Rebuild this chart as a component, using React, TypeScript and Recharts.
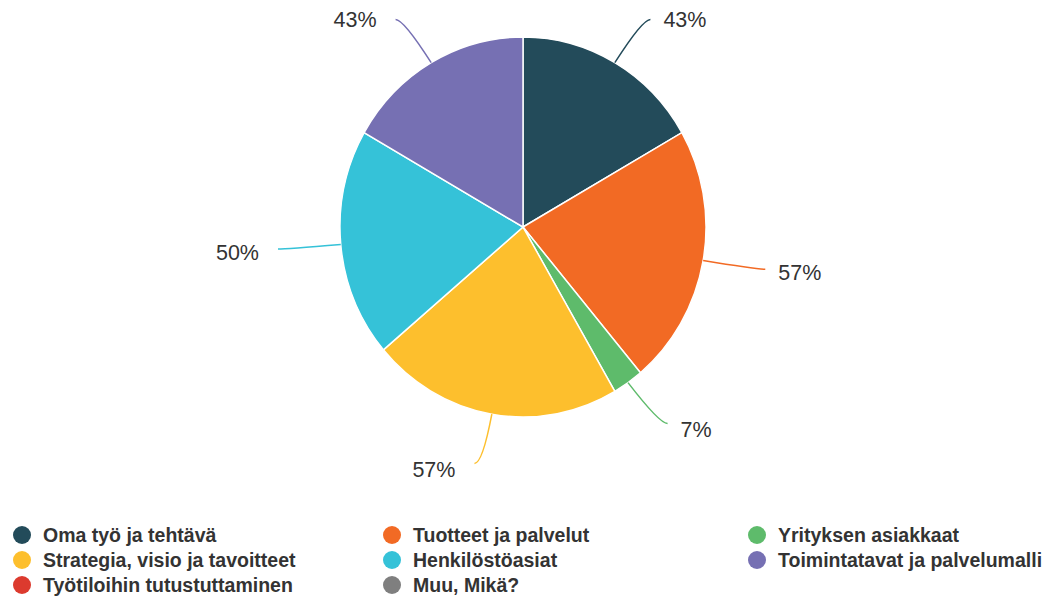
import React from 'react';
import { PieChart, Pie, Cell, Legend, Sector } from 'recharts';

const categories = [
  'Oma työ ja tehtävä',
  'Tuotteet ja palvelut',
  'Yrityksen asiakkaat',
  'Strategia, visio ja tavoitteet',
  'Henkilöstöasiat',
  'Toimintatavat ja palvelumalli',
  'Työtiloihin tutustuttaminen',
  'Muu, Mikä?',
];
const percentages = [43, 57, 7, 57, 50, 43, 0, 0];
const colors = ['#234b5a', '#f26a24', '#5ebb6b', '#fdbf2d', '#35c2d8', '#7670b3', '#dc3a2e', '#7f7f7f'];

const data = categories.map((name, i) => ({ name, value: percentages[i] }));

const RADIAN = Math.PI / 180;
const FONT = '"Liberation Sans", Arial, sans-serif';
// the original pie is slightly squeezed horizontally
const X_SCALE = 183 / 190;

// curved connector: goes out radially, then hooks sideways
const lineGeometry = (cx: number, cy: number, r: number, midAngle: number) => {
  const cos = Math.cos(-midAngle * RADIAN);
  const sin = Math.sin(-midAngle * RADIAN);
  const start = { x: cx + r * X_SCALE * cos, y: cy + r * sin };
  const bend = { x: cx + (r * X_SCALE + 55) * cos, y: cy + (r + 50) * sin };
  const side = cos >= 0 ? 1 : -1;
  const end = { x: bend.x + side * 8, y: bend.y };
  return { start, bend, end, side, sin };
};

const renderLabelLine = (props: any) => {
  const { cx, cy, midAngle, outerRadius, value, index } = props;
  if (!value) return <g />;
  const { start, bend, end } = lineGeometry(cx, cy, outerRadius, midAngle);
  return (
    <path
      d={`M${start.x},${start.y} Q${bend.x},${bend.y} ${end.x},${end.y}`}
      stroke={colors[index]}
      strokeWidth={1.5}
      fill="none"
    />
  );
};

const renderLabel = (props: any) => {
  const { cx, cy, midAngle, outerRadius, value } = props;
  if (!value) return <g />;
  const { end, side, sin } = lineGeometry(cx, cy, outerRadius, midAngle);
  return (
    <text
      x={end.x + (side > 0 ? 13 : -19)}
      y={end.y + 3.5 + 3 * sin}
      textAnchor={side > 0 ? 'start' : 'end'}
      dominantBaseline="central"
      fill="#333"
      fontSize={21.5}
      fontFamily={FONT}
    >
      {`${value}%`}
    </text>
  );
};

const renderSector = (props: any) => (
  <g transform={`translate(${props.cx},0) scale(${X_SCALE},1) translate(${-props.cx},0)`}>
    <Sector {...props} />
  </g>
);

const legendCols = [13, 383, 748];

const CustomLegend = () => (
  <div style={{ position: 'relative', width: 1056, height: 82 }}>
    {categories.map((name, i) => {
      const col = i % 3;
      const row = Math.floor(i / 3);
      return (
        <div
          key={name}
          style={{
            position: 'absolute',
            left: legendCols[col],
            top: 20 + row * 25 - 12,
            height: 24,
            display: 'flex',
            alignItems: 'center',
            whiteSpace: 'nowrap',
          }}
        >
          <span
            style={{
              width: 18,
              height: 18,
              borderRadius: '50%',
              background: colors[i],
              display: 'inline-block',
              marginRight: 12,
            }}
          />
          <span style={{ fontSize: 19.5, fontWeight: 'bold', color: '#333', fontFamily: FONT }}>{name}</span>
        </div>
      );
    })}
  </div>
);

export default function App() {
  return (
    <div style={{ position: 'absolute', left: 0, top: 0, width: 1056, height: 597, background: '#fff' }}>
      <PieChart width={1056} height={597} margin={{ top: 0, right: 0, bottom: 0, left: 0 }}>
        <Pie
          data={data}
          dataKey="value"
          nameKey="name"
          cx={523}
          cy={227}
          outerRadius={190}
          startAngle={90}
          endAngle={-270}
          stroke="#fff"
          strokeWidth={1.5}
          shape={renderSector}
          label={renderLabel}
          labelLine={renderLabelLine}
          isAnimationActive={false}
        >
          {data.map((d, i) => (
            <Cell key={d.name} fill={colors[i]} />
          ))}
        </Pie>
        <Legend
          content={() => <CustomLegend />}
          wrapperStyle={{ position: 'absolute', left: 0, top: 515, width: 1056 }}
        />
      </PieChart>
    </div>
  );
}
